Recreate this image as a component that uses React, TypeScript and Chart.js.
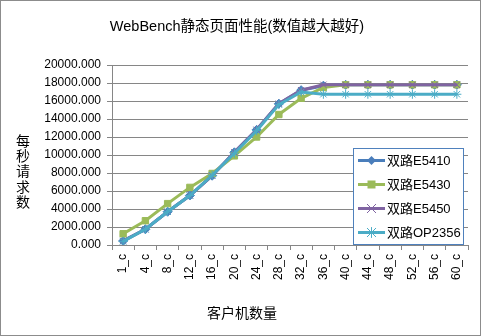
import React, { useEffect, useRef } from "react";
import { Chart, registerables } from "chart.js";

Chart.register(...registerables);

const chartTitle = "WebBench静态页面性能(数值越大越好)";
const yTitle = "每秒请求数";
const xTitle = "客户机数量";
const categories = ["1_c", "4_c", "8_c", "12_c", "16_c", "20_c", "24_c", "28_c", "32_c", "36_c", "40_c", "44_c", "48_c", "52_c", "56_c", "60_c"];
const seriesNames = ["双路E5410", "双路E5430", "双路E5450", "双路OP2356"];
const e5410 = [450, 1750, 3700, 5500, 7700, 10300, 12800, 15700, 17200, 17700, 17800, 17800, 17800, 17800, 17800, 17800];
const e5430 = [1250, 2700, 4600, 6400, 7950, 9900, 12000, 14500, 16300, 17500, 17800, 17800, 17800, 17800, 17800, 17800];
const e5450 = [450, 1750, 3700, 5500, 7700, 10300, 12800, 15700, 17200, 17800, 17800, 17800, 17800, 17800, 17800, 17800];
const op2356 = [400, 1750, 3700, 5500, 7750, 10200, 12700, 15600, 17000, 16750, 16750, 16750, 16750, 16750, 16750, 16750];
const colors = ["#4A7EBB", "#9BBB59", "#8064A2", "#4BACC6"];
const markers = ["rectRot", "rect", "crossRot", "star"];

const FONT = "'Liberation Sans', 'Noto Sans CJK SC', sans-serif";

function drawMarker(ctx: CanvasRenderingContext2D, style: string, x: number, y: number, r: number, color: string) {
  ctx.save();
  ctx.fillStyle = color;
  ctx.strokeStyle = color;
  ctx.lineWidth = 1;
  ctx.beginPath();
  if (style === "rectRot") {
    ctx.moveTo(x, y - r);
    ctx.lineTo(x + r, y);
    ctx.lineTo(x, y + r);
    ctx.lineTo(x - r, y);
    ctx.closePath();
    ctx.fill();
  } else if (style === "rect") {
    ctx.rect(x - r, y - r, 2 * r, 2 * r);
    ctx.fill();
  } else if (style === "crossRot") {
    ctx.moveTo(x - r, y - r);
    ctx.lineTo(x + r, y + r);
    ctx.moveTo(x + r, y - r);
    ctx.lineTo(x - r, y + r);
    ctx.stroke();
  } else {
    ctx.moveTo(x - r, y - r);
    ctx.lineTo(x + r, y + r);
    ctx.moveTo(x + r, y - r);
    ctx.lineTo(x - r, y + r);
    ctx.moveTo(x, y - r * 1.2);
    ctx.lineTo(x, y + r * 1.2);
    ctx.stroke();
  }
  ctx.restore();
}

const decorPlugin = {
  id: "decor",
  beforeDraw(chart: any) {
    const ctx = chart.ctx as CanvasRenderingContext2D;
    ctx.save();
    ctx.fillStyle = "#ffffff";
    ctx.fillRect(0, 0, chart.width, chart.height);
    ctx.restore();
  },
  afterDraw(chart: any) {
    const ctx = chart.ctx as CanvasRenderingContext2D;
    const area = chart.chartArea;
    ctx.save();
    // outer border
    ctx.strokeStyle = "#8c8c8c";
    ctx.lineWidth = 1;
    ctx.strokeRect(0.5, 0.5, chart.width - 1, chart.height - 1);
    // title
    ctx.fillStyle = "#000";
    ctx.textAlign = "center";
    ctx.textBaseline = "middle";
    ctx.font = "14.5px " + FONT;
    ctx.fillText(chartTitle, 237, 27);
    // y title stacked
    ctx.font = "14px " + FONT;
    const chars = Array.from(yTitle);
    chars.forEach((c, i) => ctx.fillText(c, 23, 142 + i * 15.3));
    // x title
    ctx.fillText(xTitle, 242, 314);
    // legend
    const lx = area.right - 115, ly = area.top + 83, lw = 110, lh = 96;
    ctx.fillStyle = "#fff";
    ctx.fillRect(lx, ly, lw, lh);
    ctx.strokeStyle = "#4F81BD";
    ctx.strokeRect(Math.round(lx) + 0.5, Math.round(ly) + 0.5, lw, lh);
    seriesNames.forEach((name, i) => {
      const cy = ly + 12.5 + i * 24;
      ctx.strokeStyle = colors[i];
      ctx.lineWidth = 3;
      ctx.beginPath();
      ctx.moveTo(lx + 5, cy);
      ctx.lineTo(lx + 32, cy);
      ctx.stroke();
      drawMarker(ctx, markers[i], lx + 18.5, cy, markers[i] === "rect" ? 4 : 4.5, colors[i]);
      ctx.fillStyle = "#000";
      ctx.textAlign = "left";
      ctx.font = "13px " + FONT;
      ctx.fillText(name, lx + 34, cy + 1);
    });
    ctx.restore();
  },
};

export default function App() {
  const ref = useRef<HTMLCanvasElement>(null);
  useEffect(() => {
    const series = [e5410, e5430, e5450, op2356];
    const chart = new Chart(ref.current!, {
      type: "line",
      data: {
        labels: categories,
        datasets: series.map((d, i) => ({
          label: seriesNames[i],
          data: d,
          borderColor: colors[i],
          backgroundColor: colors[i],
          borderWidth: 3,
          pointStyle: markers[i] as any,
          pointRadius: 4.5,
          pointBorderWidth: 1,
          pointBorderColor: colors[i],
          pointBackgroundColor: colors[i],
          tension: 0,
          order: 3 - i,
        })),
      },
      options: {
        animation: false,
        responsive: false,
        devicePixelRatio: 1,
        layout: { padding: { top: 65, right: 13, bottom: 0, left: 0 } },
        plugins: {
          legend: { display: false },
          title: { display: false },
          tooltip: { enabled: false },
        },
        scales: {
          x: {
            type: "category",
            offset: true,
            grid: { display: true, drawOnChartArea: false, offset: true, tickLength: 5, color: "#868686" },
            border: { color: "#868686", width: 1 },
            ticks: { minRotation: 90, maxRotation: 90, autoSkip: false, padding: 4, color: "#000", font: { size: 12, family: FONT } },
            afterFit: (s: any) => { s.height = 91; },
          },
          y: {
            min: 0,
            max: 20000,
            grid: { color: "#868686", tickLength: 5, lineWidth: 1 },
            border: { color: "#868686", width: 1 },
            ticks: {
              stepSize: 2000,
              padding: 6,
              color: "#000",
              font: { size: 12, family: FONT },
              callback: (v: any) => Number(v).toFixed(3),
            },
            afterFit: (s: any) => { s.width = 112; },
          },
        },
      },
      plugins: [decorPlugin],
    });
    return () => chart.destroy();
  }, []);
  return (
    <div style={{ position: "fixed", left: 0, top: 0, width: 481, height: 336 }}>
      <canvas ref={ref} width={481} height={336} style={{ width: 481, height: 336 }} />
    </div>
  );
}
